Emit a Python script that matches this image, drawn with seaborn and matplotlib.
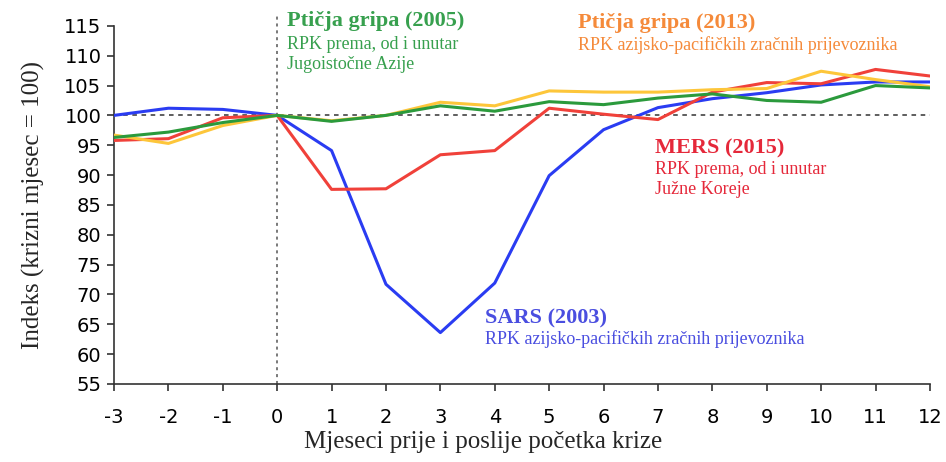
import seaborn as sns
import matplotlib.pyplot as plt
import pandas as pd

months = list(range(-3, 13))
month_labels = [str(m) for m in months]

sars_2003 = [100, 101.2, 101.0, 100, 94.1, 71.7, 63.6, 71.9, 89.9, 97.6, 101.3, 102.8, 103.8, 105.1, 105.6, 105.6]
mers_2015 = [95.8, 96.1, 99.6, 100, 87.6, 87.7, 93.4, 94.1, 101.2, 100.2, 99.3, 103.9, 105.5, 105.3, 107.7, 106.6]
bird_2013 = [96.7, 95.3, 98.3, 100, 99.1, 100.0, 102.2, 101.6, 104.1, 103.9, 103.9, 104.3, 104.5, 107.4, 106.0, 104.8]
bird_2005 = [96.3, 97.2, 98.8, 100, 99.0, 100.0, 101.6, 100.7, 102.3, 101.8, 102.9, 103.6, 102.5, 102.2, 105.0, 104.6]

series_names = ['SARS (2003)', 'MERS (2015)', 'Ptičja gripa (2013)', 'Ptičja gripa (2005)']
line_colors = ['#2a3cf2', '#f0413a', '#fdc63a', '#2b9a3c']

y_ticks = list(range(55, 116, 5))

df = pd.concat([
    pd.DataFrame({'mjesec': months, 'indeks': vals, 'serija': name})
    for name, vals in zip(series_names, [sars_2003, mers_2015, bird_2013, bird_2005])
])

sns.set_theme(style='ticks')
plt.rcParams['font.family'] = ['DejaVu Sans']

fig = plt.figure(figsize=(9.46, 4.62), dpi=100)
ax = fig.add_axes([0.1205, 0.169, 0.8625, 0.775])

# reference lines first so the series sit on top
ax.axhline(100, color='#333333', lw=1.1, ls=(0, (3, 3)), zorder=1)
ax.axvline(0, ymin=0, ymax=1.03, color='#555555', lw=1.1, ls=(0, (2, 2.5)),
           zorder=1, clip_on=False)

sns.lineplot(data=df, x='mjesec', y='indeks', hue='serija', hue_order=series_names,
             palette=line_colors, lw=2.2, legend=False, ax=ax, zorder=3)

ax.set_xlim(-3, 12)
ax.set_ylim(55, 115)
ax.set_xticks(months)
ax.set_xticklabels(month_labels)
ax.set_yticks(y_ticks)
ax.set_yticklabels([str(v) for v in y_ticks])
ax.tick_params(labelsize=14, length=5, width=1.2, color='#333333', labelcolor='black')
ax.tick_params(axis='x', pad=12)
ax.tick_params(axis='y', pad=4)
for s in ['top', 'right']:
    ax.spines[s].set_visible(False)
for s in ['left', 'bottom']:
    ax.spines[s].set_color('#333333')
    ax.spines[s].set_linewidth(1.2)

serif = ['Liberation Serif', 'DejaVu Serif']
ax.set_xlabel('Mjeseci prije i poslije početka krize', family=serif, fontsize=18)
ax.xaxis.set_label_coords(0.452, -0.132)
ax.set_ylabel('Indeks (krizni mjesec = 100)', family=serif, fontsize=18, labelpad=14)

# annotations
notes = [
    (0.18, 115.8, 'Ptičja gripa (2005)', '#37a04e',
     ['RPK prema, od i unutar', 'Jugoistočne Azije'], [111.9, 108.6]),
    (5.53, 115.5, 'Ptičja gripa (2013)', '#f58a3a',
     ['RPK azijsko-pacifičkih zračnih prijevoznika'], [111.8]),
    (6.94, 94.5, 'MERS (2015)', '#e5283a',
     ['RPK prema, od i unutar', 'Južne Koreje'], [90.9, 87.5]),
    (3.82, 65.9, 'SARS (2003)', '#4a4ee0',
     ['RPK azijsko-pacifičkih zračnih prijevoznika'], [62.5]),
]
for x, y, title, col, subs, sub_ys in notes:
    ax.text(x, y, title, color=col, family=serif, fontsize=16, fontweight='bold',
            va='center', ha='left', clip_on=False)
    for s, sy in zip(subs, sub_ys):
        ax.text(x, sy, s, color=col, family=serif, fontsize=13,
                va='center', ha='left', clip_on=False)

fig.savefig('out.png', dpi=100)
